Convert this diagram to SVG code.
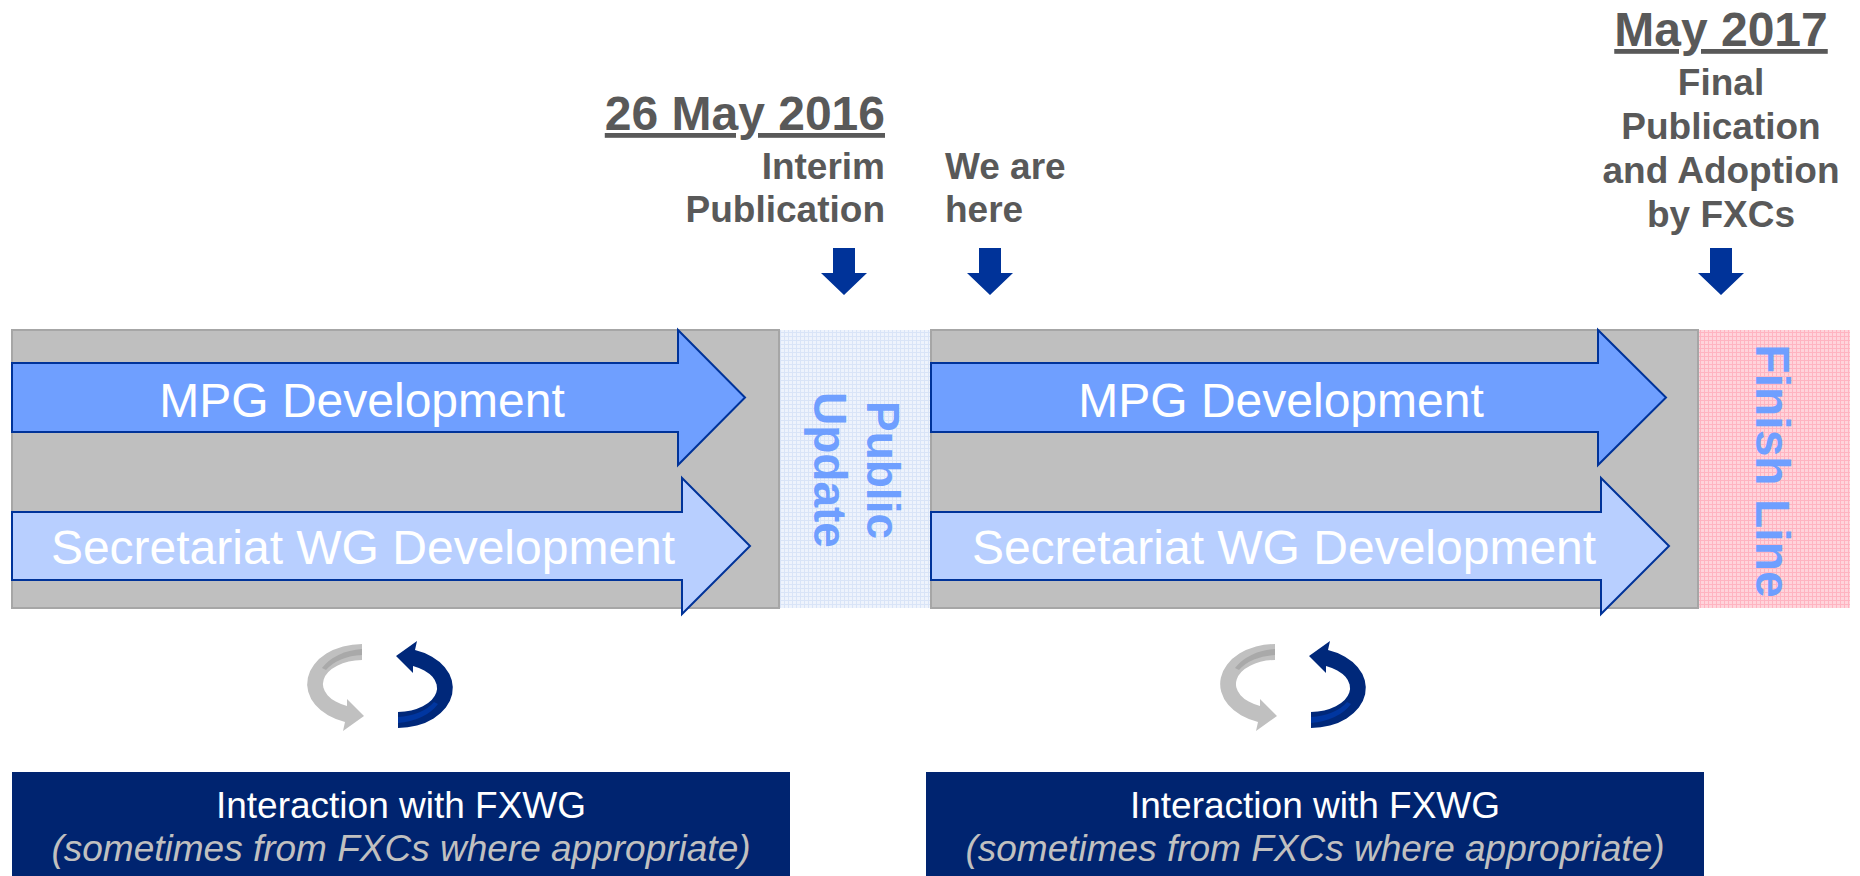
<svg xmlns="http://www.w3.org/2000/svg" width="1860" height="876" viewBox="0 0 1860 876">
<defs>
<pattern id="pBlue" width="4" height="4" patternUnits="userSpaceOnUse">
<rect width="4" height="4" fill="#eef3fc"/>
<rect x="0" y="0" width="4" height="1" fill="#d9e4f7"/>
<rect x="0" y="0" width="1" height="4" fill="#d9e4f7"/>
</pattern>
<pattern id="pPink" width="4" height="4" patternUnits="userSpaceOnUse">
<rect width="4" height="4" fill="#ffd4db"/>
<rect x="0" y="0" width="4" height="1" fill="#ffb4c1"/>
<rect x="0" y="0" width="1" height="4" fill="#ffb4c1"/>
</pattern>
<path id="curl" d="M362 644 A55 40 0 0 0 345 722 L343 731 L364 716 L347 699 L347 706 A40 24 0 0 1 362 660 Z"/>
<path id="curlHi" d="M362 649 A50 35 0 0 0 322 668 L326 670 A44 29 0 0 1 362 655 Z"/>
</defs>
<style>
.band{fill:#bfbfbf;stroke:#a6a6a6;stroke-width:2}
.mpg{fill:#6f9fff;stroke:#003399;stroke-width:2}
.sec{fill:#b8cfff;stroke:#003399;stroke-width:2}
.arrowTxt{font-family:"Liberation Sans",Arial,sans-serif;font-size:48px;fill:#ffffff;text-anchor:middle}
.vert{font-family:"Liberation Sans",Arial,sans-serif;font-weight:bold;fill:#6f9fff;text-anchor:middle}
.head{font-family:"Liberation Sans",Arial,sans-serif;font-weight:bold;fill:#595959}
.date{font-size:48px;text-decoration:underline}
.lbl{font-size:37px}
.down{fill:#003399}
.box{fill:#002470}
.boxT{font-family:"Liberation Sans",Arial,sans-serif;font-size:37px;text-anchor:middle}
</style>

<g id="phase1">
<rect class="band" x="12" y="330" width="767" height="278"/>
</g>
<g id="public-update">
<rect x="780" y="330" width="151" height="278" fill="url(#pBlue)"/>
<g transform="translate(0,470) rotate(90)">
<text class="vert" font-size="46" x="0" y="-867">Public</text>
<text class="vert" font-size="46" x="0" y="-814">Update</text>
</g>
</g>
<g id="phase2">
<rect class="band" x="931" y="330" width="767" height="278"/>
</g>
<g id="finish-line">
<rect x="1699" y="330" width="151" height="278" fill="url(#pPink)"/>
<g transform="translate(0,471) rotate(90)">
<text class="vert" font-size="48" x="0" y="-1756">Finish Line</text>
</g>
</g>

<g id="mpg1">
<polygon class="mpg" points="12,363 678,363 678,330 745,397.5 678,465 678,432 12,432"/>
<text class="arrowTxt" x="362" y="417">MPG Development</text>
</g>
<g id="sec1">
<polygon class="sec" points="12,512 682,512 682,478 750,546 682,614 682,580 12,580"/>
<text class="arrowTxt" x="363" y="564">Secretariat WG Development</text>
</g>
<g id="mpg2">
<polygon class="mpg" points="931,363 1598,363 1598,330 1666,397.5 1598,465 1598,432 931,432"/>
<text class="arrowTxt" x="1281" y="417">MPG Development</text>
</g>
<g id="sec2">
<polygon class="sec" points="931,512 1601,512 1601,478 1669,546 1601,614 1601,580 931,580"/>
<text class="arrowTxt" x="1284" y="564">Secretariat WG Development</text>
</g>

<g id="milestone-interim">
<text class="head date" x="885" y="130" text-anchor="end">26 May 2016</text>
<text class="head lbl" x="885" y="179" text-anchor="end">Interim</text>
<text class="head lbl" x="885" y="222" text-anchor="end">Publication</text>
</g>
<g id="milestone-here">
<text class="head lbl" x="945" y="179">We are</text>
<text class="head lbl" x="945" y="222">here</text>
</g>
<g id="milestone-final">
<text class="head date" x="1721" y="46" text-anchor="middle">May 2017</text>
<text class="head lbl" x="1721" y="95" text-anchor="middle">Final</text>
<text class="head lbl" x="1721" y="139" text-anchor="middle">Publication</text>
<text class="head lbl" x="1721" y="183" text-anchor="middle">and Adoption</text>
<text class="head lbl" x="1721" y="227" text-anchor="middle">by FXCs</text>
</g>

<g id="connectors">
<polygon class="down" points="833,248 855,248 855,273 867,273 844,295 821,273 833,273"/>
<polygon class="down" points="979,248 1001,248 1001,273 1013,273 990,295 967,273 979,273"/>
<polygon class="down" points="1710,248 1732,248 1732,273 1744,273 1721,295 1698,273 1710,273"/>
</g>

<g id="cycle1">
<use href="#curl" fill="#c0c0c0"/>
<use href="#curlHi" fill="#a9a9a9"/>
<g transform="rotate(180,380,686)">
<use href="#curl" fill="#00287a"/>
<use href="#curlHi" fill="#0036a0"/>
</g>
</g>
<g id="cycle2" transform="translate(913,0)">
<use href="#curl" fill="#c0c0c0"/>
<use href="#curlHi" fill="#a9a9a9"/>
<g transform="rotate(180,380,686)">
<use href="#curl" fill="#00287a"/>
<use href="#curlHi" fill="#0036a0"/>
</g>
</g>

<g id="fxwg1">
<rect class="box" x="12" y="772" width="778" height="104"/>
<text class="boxT" x="401" y="818" fill="#ffffff">Interaction with FXWG</text>
<text class="boxT" x="401" y="861" fill="#c0c0c0" font-style="italic">(sometimes from FXCs where appropriate)</text>
</g>
<g id="fxwg2">
<rect class="box" x="926" y="772" width="778" height="104"/>
<text class="boxT" x="1315" y="818" fill="#ffffff">Interaction with FXWG</text>
<text class="boxT" x="1315" y="861" fill="#c0c0c0" font-style="italic">(sometimes from FXCs where appropriate)</text>
</g>
</svg>
